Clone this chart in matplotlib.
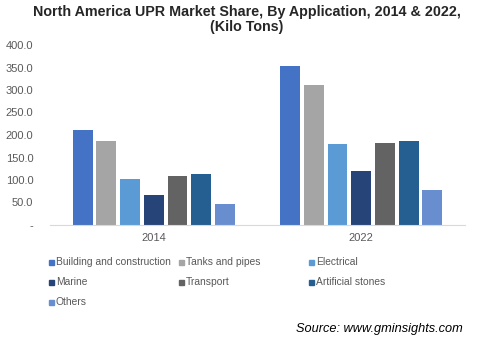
import matplotlib
matplotlib.use("Agg")
import matplotlib.pyplot as plt
from matplotlib.patches import Rectangle
import numpy as np

plt.rcParams['font.family'] = ['Liberation Sans', 'DejaVu Sans']

years = ["2014", "2022"]
series = ["Building and construction", "Tanks and pipes", "Electrical",
          "Marine", "Transport", "Artificial stones", "Others"]
values = {
    "Building and construction": [211, 353],
    "Tanks and pipes": [187, 311],
    "Electrical": [102, 180],
    "Marine": [67, 120],
    "Transport": [109, 182],
    "Artificial stones": [113, 187],
    "Others": [47, 78],
}
colors = ["#4472C4", "#A5A5A5", "#5B9BD5", "#264478", "#636363", "#255E91", "#698ED0"]
yticks = [0, 50, 100, 150, 200, 250, 300, 350, 400]
yticklabels = ["-", "50.0", "100.0", "150.0", "200.0", "250.0", "300.0", "350.0", "400.0"]

W, H = 482, 347
fig = plt.figure(figsize=(W / 100, H / 100), dpi=100)
ax = fig.add_axes([50 / W, (H - 225) / H, 415 / W, 180 / H])

x = np.arange(len(years))
n = len(series)
group = 0.8
slot = group / n
bw = slot * 0.84
for i, s in enumerate(series):
    off = -group / 2 + slot * (i + 0.5)
    ax.bar(x + off, values[s], width=bw, color=colors[i], zorder=2)

ax.set_xlim(-0.5, 1.5)
ax.set_ylim(0, 400)
ax.set_yticks(yticks)
ax.set_yticklabels(yticklabels)
ax.set_xticks(x)
ax.set_xticklabels(years)
ax.tick_params(axis='both', length=0, labelsize=8, labelcolor="#595959")
ax.tick_params(axis='y', pad=12)
ax.tick_params(axis='x', pad=6)
for sp in ["top", "right", "left"]:
    ax.spines[sp].set_visible(False)
ax.spines["bottom"].set_color("#D9D9D9")

fig.text(247 / W, 1 - 12 / H, "North America UPR Market Share, By Application, 2014 & 2022,",
         ha="center", va="center", fontsize=10.3, fontweight="bold", color="#262626")
fig.text(247 / W, 1 - 27 / H, "(Kilo Tons)",
         ha="center", va="center", fontsize=10.3, fontweight="bold", color="#262626")

# legend (row-wise, 3 columns)
col_x = [49, 179, 309]
row_y = [262, 282, 302]
for i, s in enumerate(series):
    r, c = divmod(i, 3)
    mx, my = col_x[c], row_y[r]
    fig.patches.append(Rectangle((mx / W, 1 - (my + 2.5) / H), 5 / W, 5 / H,
                                 transform=fig.transFigure, color=colors[i]))
    fig.text((mx + 7) / W, 1 - my / H, s, ha="left", va="center",
             fontsize=7.4, color="#595959")

fig.text(463 / W, 1 - 329 / H, "Source: www.gminsights.com", ha="right", va="center",
         fontsize=9.2, style="italic", color="#000000")

fig.savefig("out.png", dpi=100)
